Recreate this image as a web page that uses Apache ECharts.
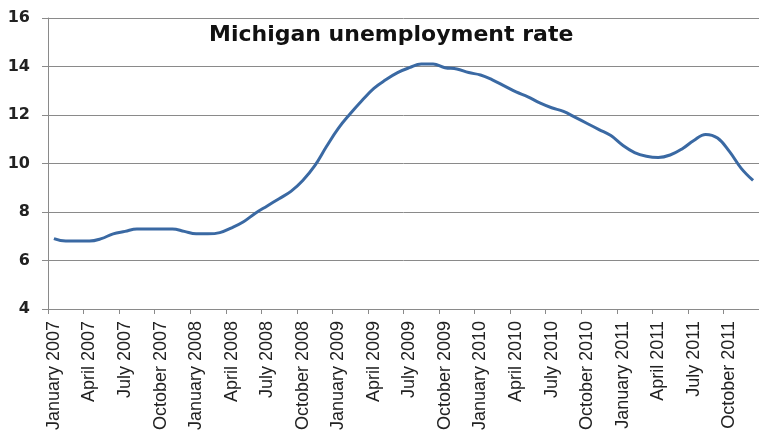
<!DOCTYPE html>
<html>
<head>
<meta charset="utf-8">
<script src="https://cdn.jsdelivr.net/npm/echarts@6/dist/echarts.min.js"></script>
<style>html,body{margin:0;padding:0;background:#fff;}#c{width:759px;height:440px;}</style>
</head>
<body>
<div id="c"></div>
<script>
const categories = [
  "January 2007","February 2007","March 2007","April 2007","May 2007","June 2007","July 2007","August 2007","September 2007","October 2007","November 2007","December 2007",
  "January 2008","February 2008","March 2008","April 2008","May 2008","June 2008","July 2008","August 2008","September 2008","October 2008","November 2008","December 2008",
  "January 2009","February 2009","March 2009","April 2009","May 2009","June 2009","July 2009","August 2009","September 2009","October 2009","November 2009","December 2009",
  "January 2010","February 2010","March 2010","April 2010","May 2010","June 2010","July 2010","August 2010","September 2010","October 2010","November 2010","December 2010",
  "January 2011","February 2011","March 2011","April 2011","May 2011","June 2011","July 2011","August 2011","September 2011","October 2011","November 2011","December 2011"
];
const unemploymentRate = [
  6.9, 6.8, 6.8, 6.8, 6.9, 7.1, 7.2, 7.3, 7.3, 7.3, 7.3, 7.2,
  7.1, 7.1, 7.15, 7.35, 7.6, 7.95, 8.25, 8.55, 8.85, 9.3, 9.9, 10.7,
  11.45, 12.05, 12.6, 13.1, 13.45, 13.75, 13.95, 14.1, 14.1, 13.95, 13.9, 13.75,
  13.65, 13.45, 13.2, 12.95, 12.75, 12.5, 12.3, 12.15, 11.9, 11.65, 11.4, 11.15,
  10.75, 10.45, 10.3, 10.25, 10.35, 10.6, 10.95, 11.2, 11.05, 10.5, 9.8, 9.3
];
const titleText = "Michigan unemployment rate";
const yMin = 4, yMax = 16, yStep = 2;

const chart = echarts.init(document.getElementById('c'));
chart.setOption({
  animation: false,
  backgroundColor: '#ffffff',
  title: {
    text: titleText,
    left: 204,
    top: 19,
    textStyle: { fontFamily: 'DejaVu Sans', fontWeight: 'bold', fontSize: 22, color: '#111' }
  },
  grid: { left: 48, right: 0, top: 18, bottom: 131, containLabel: false },
  xAxis: {
    type: 'category',
    data: categories,
    boundaryGap: true,
    axisLine: { show: true, lineStyle: { color: '#8a8a8a', width: 1 } },
    axisTick: { show: true, interval: 2, length: 5, lineStyle: { color: '#8a8a8a' } },
    axisLabel: {
      interval: 2,
      rotate: 90,
      margin: 12,
      fontFamily: 'Liberation Sans',
      fontSize: 18,
      color: '#222'
    },
    splitLine: { show: false }
  },
  yAxis: {
    type: 'value',
    min: yMin,
    max: yMax,
    interval: yStep,
    axisLine: { show: true, lineStyle: { color: '#8a8a8a', width: 1 } },
    axisTick: { show: true, length: 6, lineStyle: { color: '#8a8a8a' } },
    axisLabel: { fontFamily: 'DejaVu Sans', fontWeight: 'bold', fontSize: 16, color: '#222', margin: 18 },
    splitLine: { show: true, lineStyle: { color: '#8a8a8a', width: 1 } }
  },
  series: [{
    type: 'line',
    data: unemploymentRate,
    smooth: 0.4,
    symbol: 'none',
    lineStyle: { color: '#3a69a3', width: 3 }
  }]
});
</script>
</body>
</html>
